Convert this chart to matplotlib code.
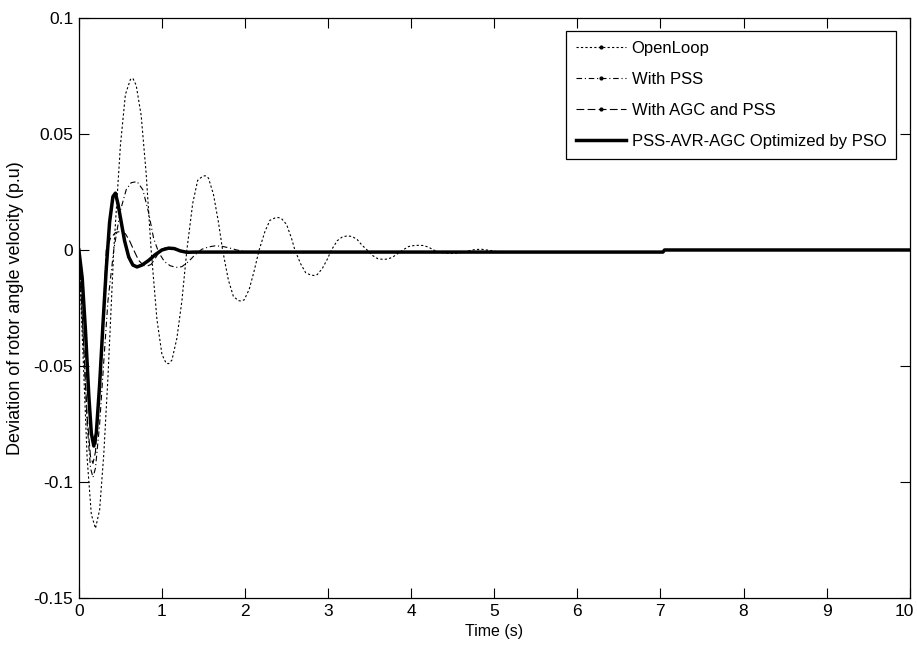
import matplotlib
matplotlib.use("Agg")
import matplotlib.pyplot as plt
from matplotlib.lines import Line2D
from matplotlib.transforms import ScaledTranslation

plt.rcParams['font.family'] = ['Liberation Sans', 'DejaVu Sans']

# values
t_open = [0, 0.05, 0.1, 0.15, 0.2, 0.25, 0.3, 0.35, 0.42, 0.5, 0.56, 0.62, 0.65, 0.69, 0.75, 0.81,
          0.87, 0.94, 1.0, 1.05, 1.08, 1.12, 1.18, 1.24, 1.3, 1.37, 1.43, 1.49, 1.52, 1.56, 1.62, 1.68,
          1.73, 1.8, 1.86, 1.92, 1.95, 1.99, 2.05, 2.11, 2.17, 2.24, 2.3, 2.36, 2.4, 2.44, 2.5, 2.56,
          2.6, 2.67, 2.73, 2.79, 2.83, 2.87, 2.93, 2.99, 3.04, 3.11, 3.17, 3.22, 3.25, 3.29, 3.35, 3.41,
          3.47, 3.54, 3.6, 3.65, 3.68, 3.72, 3.78, 3.84, 3.9, 3.97, 4.03, 4.08, 4.11, 4.15, 4.21, 4.27,
          4.32, 4.4, 4.48, 4.55, 4.62, 4.7, 4.77, 4.85, 4.95, 5.05, 5.15, 5.3, 7.0]
v_open = [0, -0.045, -0.09, -0.114, -0.12, -0.112, -0.088, -0.055, 0, 0.045, 0.067, 0.0735, 0.074, 0.071, 0.058, 0.033,
          0, -0.03, -0.045, -0.0488, -0.049, -0.0475, -0.038, -0.022, 0, 0.02, 0.03, 0.0318, 0.032, 0.031, 0.024, 0.012,
          0, -0.013, -0.02, -0.0218, -0.022, -0.0215, -0.017, -0.009, 0, 0.008, 0.0128, 0.0138, 0.014, 0.0135, 0.011, 0.005,
          0, -0.006, -0.0098, -0.0108, -0.011, -0.0106, -0.008, -0.004, 0, 0.004, 0.0056, 0.006, 0.006, 0.0058, 0.0045, 0.002,
          0, -0.0025, -0.0038, -0.004, -0.004, -0.0039, -0.003, -0.0015, 0, 0.0015, 0.0019, 0.002, 0.002, 0.0019, 0.0012, 0.0,
          -0.0008, -0.0013, -0.0015, -0.0014, -0.001, -0.0003, 0.0002, 0.0003, -0.0002, -0.0008, -0.0009, -0.0008, -0.0008]

t_pss = [0, 0.05, 0.1, 0.14, 0.17, 0.2, 0.25, 0.3, 0.35, 0.42, 0.5, 0.57, 0.63, 0.7, 0.77, 0.84,
         0.9, 0.96, 1.03, 1.1, 1.17, 1.24, 1.32, 1.4, 1.48, 1.56, 1.64, 1.72, 1.8, 1.9, 2.0, 2.1,
         2.2, 2.35, 2.5, 7.0]
v_pss = [0, -0.035, -0.075, -0.094, -0.098, -0.094, -0.075, -0.048, -0.022, 0, 0.017, 0.026, 0.029, 0.0295, 0.026, 0.016,
         0.005, -0.001, -0.005, -0.0068, -0.0075, -0.0072, -0.005, -0.002, 0.0003, 0.0013, 0.0018, 0.0016, 0.001, 0.0, -0.0007, -0.0009,
         -0.0009, -0.0007, -0.0008, -0.0008]

t_agc = [0, 0.05, 0.1, 0.14, 0.17, 0.2, 0.25, 0.29, 0.33, 0.38, 0.44, 0.5, 0.56, 0.61, 0.66, 0.72,
         0.78, 0.82, 0.87, 0.93, 0.98, 1.04, 1.1, 1.17, 1.25, 1.35, 1.5, 7.0]
v_agc = [0, -0.035, -0.072, -0.089, -0.092, -0.087, -0.06, -0.03, 0, 0.005, 0.0075, 0.008, 0.007, 0.004, 0, -0.0045,
         -0.0067, -0.007, -0.0062, -0.003, 0, 0.0009, 0.001, 0.0, -0.0008, -0.0009, -0.0008, -0.0008]

t_pso = [0, 0.04, 0.08, 0.12, 0.15, 0.18, 0.21, 0.25, 0.29, 0.33, 0.37, 0.41, 0.44, 0.47, 0.51, 0.55,
         0.6, 0.65, 0.7, 0.76, 0.84, 0.92, 1.0, 1.08, 1.15, 1.22, 1.3, 1.4, 7.03, 7.05, 10]
v_pso = [0, -0.012, -0.035, -0.063, -0.079, -0.0845, -0.079, -0.058, -0.032, -0.008, 0.012, 0.023, 0.0245, 0.02, 0.012, 0.004,
         -0.003, -0.0065, -0.0073, -0.0065, -0.0045, -0.002, 0.0, 0.0008, 0.0006, -0.0004, -0.001, -0.0009, -0.0009, 0, 0]

labels = ['OpenLoop', 'With PSS', 'With AGC and PSS', 'PSS-AVR-AGC Optimized by PSO']
xticks = [0, 1, 2, 3, 4, 5, 6, 7, 8, 9, 10]
yticks = [-0.15, -0.1, -0.05, 0, 0.05, 0.1]
ytick_labels = ['-0.15', '-0.1', '-0.05', '0', '0.05', '0.1']

fig = plt.figure(figsize=(9.17, 6.59), dpi=100)
ax = fig.add_axes([0.086, 0.0926, 0.906, 0.8801])

ax.plot(t_open, v_open, color='black', lw=0.8, dashes=(2, 2))
ax.plot(t_pss, v_pss, color='black', lw=0.8, dashes=(5, 2.5, 1, 2.5))
ax.plot(t_agc, v_agc, color='black', lw=0.8, dashes=(7, 3))
ax.plot(t_pso, v_pso, color='black', lw=2.5)

ax.set_xlim(0, 10)
ax.set_ylim(-0.15, 0.1)
ax.set_xticks(xticks)
ax.set_xticklabels([str(x) for x in xticks])
ax.set_yticks(yticks)
ax.set_yticklabels(ytick_labels)
ax.tick_params(direction='in', length=7, width=0.8, top=True, right=True, labelsize=12.5, pad=4)
for s in ax.spines.values():
    s.set_linewidth(0.9)
# nudge the last x label so it stays inside the figure
last = ax.get_xticklabels()[-1]
last.set_transform(last.get_transform() + ScaledTranslation(-4 / 72, 0, fig.dpi_scale_trans))

ax.set_xlabel('Time (s)', fontsize=11.5, labelpad=4)
ax.set_ylabel('Deviation of rotor angle velocity (p.u)', fontsize=13, labelpad=7)

handles = [
    Line2D([], [], color='black', lw=0.8, dashes=(2, 2), marker='.', markersize=4),
    Line2D([], [], color='black', lw=0.8, dashes=(5, 2.5, 1, 2.5), marker='.', markersize=4),
    Line2D([], [], color='black', lw=0.8, dashes=(7, 3), marker='.', markersize=4),
    Line2D([], [], color='black', lw=2.5),
]
leg = ax.legend(handles, labels, loc='upper right', fontsize=12, fancybox=False,
                framealpha=1, edgecolor='black', borderaxespad=0.8, handlelength=3.0,
                handletextpad=0.35, labelspacing=0.95, borderpad=0.6)
leg.get_frame().set_linewidth(0.9)

fig.savefig('out.png', dpi=100)
